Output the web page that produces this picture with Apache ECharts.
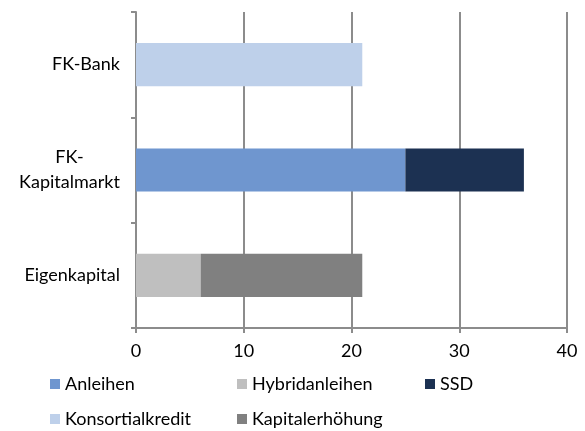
<!DOCTYPE html>
<html>
<head>
<meta charset="utf-8">
<script src="https://cdn.jsdelivr.net/npm/echarts@6/dist/echarts.min.js"></script>
<style>html,body{margin:0;padding:0;background:#fff}#c{width:585px;height:431px}</style>
</head>
<body>
<div id="c"></div>
<script>
var categories = ['Eigenkapital', 'FK-\nKapitalmarkt', 'FK-Bank'];
var konsortialkredit = [null, null, 21];
var anleihen = [null, 25, null];
var ssd = [null, 11, null];
var hybridanleihen = [6, null, null];
var kapitalerhoehung = [15, null, null];
var xTicks = [0, 10, 20, 30, 40];

var colors = {
  'Anleihen': '#6f96cf',
  'Hybridanleihen': '#bfbfbf',
  'SSD': '#1c3152',
  'Konsortialkredit': '#bed0ea',
  'Kapitalerhöhung': '#808080'
};
var font = 'Lato, "Open Sans", sans-serif';
var fontSize = 18;

var measureCtx = document.createElement('canvas').getContext('2d');
measureCtx.font = fontSize + 'px ' + font;

function catLabel(v) {
  var lines = v.split('\n');
  if (lines.length === 1) return v;
  var w = Math.max.apply(null, lines.map(function (l) { return measureCtx.measureText(l).width; }));
  return lines.map(function (l) { return '{c|' + l + '}'; }).join('\n') + '\u0000' + w;
}

function bar(name, data) {
  return {
    name: name, type: 'bar', stack: 'total', data: data,
    barWidth: '41%', itemStyle: { color: colors[name] },
    emphasis: { disabled: true }
  };
}

var legendPos = [
  ['Anleihen', 50, 375],
  ['Hybridanleihen', 237, 375],
  ['SSD', 425, 375],
  ['Konsortialkredit', 50, 410],
  ['Kapitalerhöhung', 237, 410]
];

var multiW = Math.ceil(Math.max.apply(null, categories.filter(function (c) { return c.indexOf('\n') >= 0; })
  .map(function (c) { return Math.max.apply(null, c.split('\n').map(function (l) { return measureCtx.measureText(l).width; })); })));

var chart = echarts.init(document.getElementById('c'), null, { renderer: 'canvas' });
chart.setOption({
  animation: false,
  grid: { left: 136, right: 18, top: 12, bottom: 103, containLabel: false },
  legend: legendPos.map(function (p) {
    return {
      data: [p[0]], left: p[1], top: p[2], icon: 'rect',
      itemWidth: 10, itemHeight: 10, itemGap: 4, padding: 0,
      textStyle: { fontFamily: font, fontSize: fontSize, color: '#000' },
      selectedMode: false
    };
  }),
  xAxis: {
    type: 'value', min: xTicks[0], max: xTicks[xTicks.length - 1], interval: 10,
    axisLine: { show: true, lineStyle: { color: '#8c8c8c', width: 2 } },
    axisTick: { show: true, length: 5, lineStyle: { color: '#8c8c8c', width: 2 } },
    splitLine: { show: true, lineStyle: { color: '#8c8c8c', width: 2 } },
    axisLabel: { fontFamily: font, fontSize: fontSize, color: '#000', margin: 14 }
  },
  yAxis: {
    type: 'category', data: categories,
    axisLine: { show: true, lineStyle: { color: '#8c8c8c', width: 2 } },
    axisTick: { show: true, length: 5, inside: false, lineStyle: { color: '#8c8c8c', width: 2 } },
    axisLabel: {
      fontFamily: font, fontSize: fontSize, color: '#000', margin: 16, lineHeight: 25, align: 'right',
      formatter: function (v) {
        var lines = v.split('\n');
        if (lines.length === 1) return v;
        return lines.map(function (l) { return '{c|' + l + '}'; }).join('\n');
      },
      rich: { c: { fontFamily: font, fontSize: fontSize, color: '#000', lineHeight: 25, width: multiW, align: 'center' } }
    }
  },
  series: [
    bar('Konsortialkredit', konsortialkredit),
    bar('Anleihen', anleihen),
    bar('SSD', ssd),
    bar('Hybridanleihen', hybridanleihen),
    bar('Kapitalerhöhung', kapitalerhoehung)
  ]
});
</script>
</body>
</html>
